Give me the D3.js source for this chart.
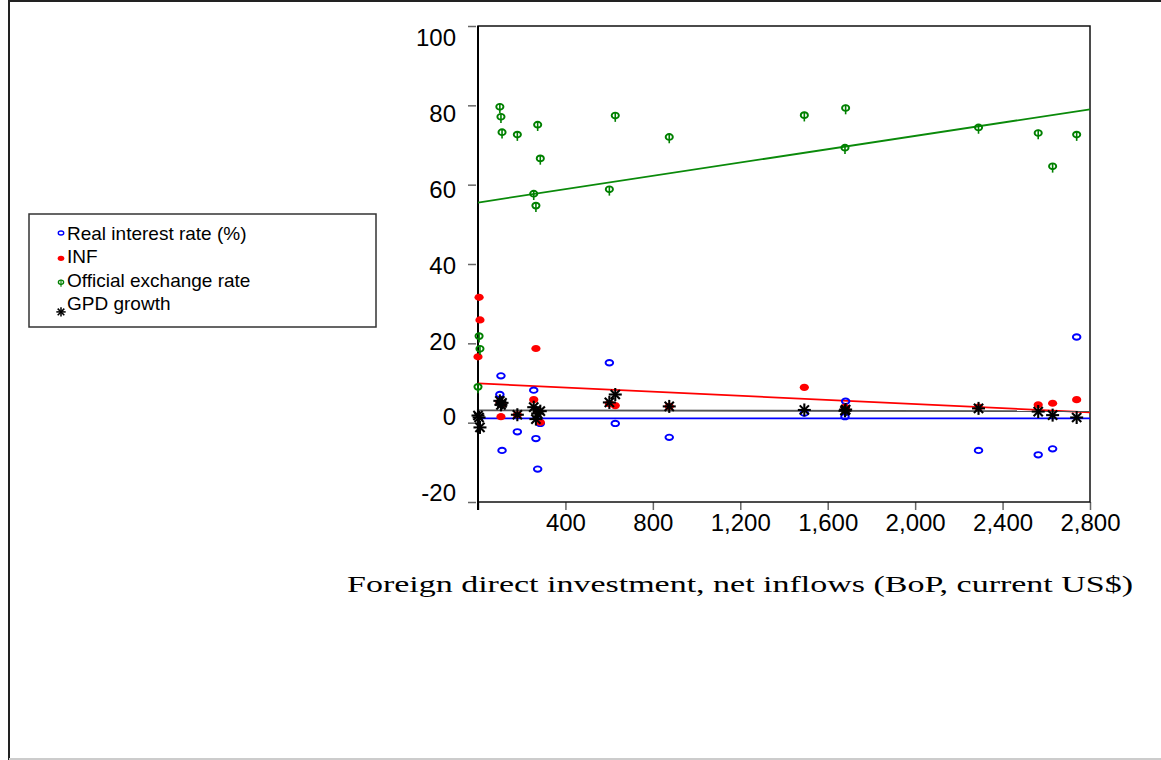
<!DOCTYPE html>
<html>
<head>
<meta charset="utf-8">
<script src="https://cdn.jsdelivr.net/npm/d3@7"></script>
<style>
  body { margin: 0; background: #fff; }
  svg { display: block; }
  .tick line { stroke: #666; stroke-width: 1.5; }
  .domain { display: none; }
</style>
</head>
<body>
<script>
// FDI net inflows for each year (x) and the four series (y)
const fdi          = [0, 5, 9, 100, 105, 110, 180, 255, 265, 273, 285, 601, 628, 875, 1493, 1679, 1682, 2290, 2563, 2629, 2739];
const realInterest = [null, null, null, 7.1, 11.8, -7.0, -2.3, 8.2, -4.0, -11.7, -0.2, 15.1, -0.2, -3.7, 2.4, 1.5, 5.4, -7.0, -8.1, -6.6, 21.6];
const inflation    = [16.6, 31.6, 25.9, 5.2, 1.5, 4.6, 2.0, 5.8, 18.7, 3.0, 0.1, 4.8, 4.3, 4.1, 8.9, 3.9, 3.5, 3.9, 4.5, 4.9, 5.8];
const exchangeRate = [8.9, 21.7, 18.5, 79.5, 77.0, 73.1, 72.5, 57.6, 54.6, 75.0, 66.5, 58.7, 77.3, 71.9, 77.4, 69.2, 79.2, 74.3, 72.9, 64.5, 72.5];
const gdpGrowth    = [1.8, 1.3, -1.2, 5.5, 4.5, 5.0, 2.0, 3.9, 0.9, 2.3, 2.9, 5.1, 7.1, 4.1, 3.2, 3.0, 3.3, 3.6, 2.8, 1.9, 1.3];

const seriesNames = ['Real interest rate (%)', 'INF', 'Official exchange rate', 'GPD growth'];
// fitted line values at FDI = 0 and FDI = 2800
const fitStart = [1.1, 9.9, 55.5, 3.1];
const fitEnd   = [1.1, 2.6, 79.0, 2.9];

const xTicks = [0, 400, 800, 1200, 1600, 2000, 2400, 2800];
const yTicks = [-20, 0, 20, 40, 60, 80, 100];
const xTitle = 'Foreign direct investment, net inflows (BoP, current US$)';

const colors = ['#0000ff', '#ff0000', '#008000', '#000000'];
const lineColors = ['#0000ff', '#ff0000', '#0a8a0a', '#555555'];

const width = 1161, height = 760;
const svg = d3.select('body').append('svg')
  .attr('width', width)
  .attr('height', height);

// page frame
svg.append('line').attr('x1', 9).attr('x2', 9).attr('y1', 0).attr('y2', height).attr('stroke', '#222').attr('stroke-width', 2);
svg.append('line').attr('x1', 9).attr('x2', width).attr('y1', 1).attr('y2', 1).attr('stroke', '#222').attr('stroke-width', 2);
svg.append('line').attr('x1', 9).attr('x2', width).attr('y1', 759).attr('y2', 759).attr('stroke', '#ccc').attr('stroke-width', 2);

const plot = { left: 478, right: 1090, top: 26, bottom: 502 };

const x = d3.scaleLinear().domain([0, 2800]).range([plot.left, plot.right]);
const y = d3.scaleLinear().domain([-20, 100]).range([plot.bottom, plot.top]);
// the value labels sit a little inside the tick span in the original
const yLabel = d3.scaleLinear().domain([-20, 100]).range([493, 38]);

// axes
const yAxis = svg.append('g')
  .attr('transform', `translate(${plot.left - 2},0)`)
  .call(d3.axisLeft(y).tickValues(yTicks).tickSize(8).tickPadding(12)
    .tickFormat(d => String(d)));
yAxis.selectAll('text')
  .attr('y', d => yLabel(d) - y(d))
  .style('font-family', '"Liberation Sans", Arial, sans-serif')
  .style('font-size', '24px')
  .attr('fill', '#000');

const xAxis = svg.append('g')
  .attr('transform', `translate(0,${plot.bottom})`)
  .call(d3.axisBottom(x).tickValues(xTicks).tickSize(8).tickPadding(4)
    .tickFormat(d => d === 0 ? '' : d3.format(',')(d)));
xAxis.selectAll('text')
  .style('font-family', '"Liberation Sans", Arial, sans-serif')
  .style('font-size', '24px')
  .attr('fill', '#000');

svg.append('rect')
  .attr('x', plot.left).attr('y', plot.top)
  .attr('width', plot.right - plot.left).attr('height', plot.bottom - plot.top)
  .attr('fill', 'none').attr('stroke', '#111').attr('stroke-width', 1.5);
svg.append('line')
  .attr('x1', plot.left).attr('x2', plot.left)
  .attr('y1', plot.top).attr('y2', plot.bottom + 8)
  .attr('stroke', '#000').attr('stroke-width', 2);

// fitted lines
const fits = svg.append('g');
seriesNames.forEach((name, i) => {
  fits.append('line')
    .attr('x1', x(0)).attr('y1', y(fitStart[i]))
    .attr('x2', x(2800)).attr('y2', y(fitEnd[i]))
    .attr('stroke', lineColors[i])
    .attr('stroke-width', 1.8);
});

// marker shapes
const drawMarker = (g, type, cx, cy, s) => {
  if (type === 0) {
    g.append('ellipse').attr('cx', cx).attr('cy', cy).attr('rx', 3.8 * s).attr('ry', 2.7 * s)
      .attr('fill', 'none').attr('stroke', colors[0]).attr('stroke-width', 1.9 * s);
  } else if (type === 1) {
    g.append('ellipse').attr('cx', cx).attr('cy', cy).attr('rx', 4.6 * s).attr('ry', 3.6 * s)
      .attr('fill', colors[1]);
  } else if (type === 2) {
    g.append('ellipse').attr('cx', cx).attr('cy', cy - 0.5 * s).attr('rx', 3.6 * s).attr('ry', 2.9 * s)
      .attr('fill', 'none').attr('stroke', colors[2]).attr('stroke-width', 1.9 * s);
    g.append('line').attr('x1', cx).attr('x2', cx).attr('y1', cy - 3.8 * s).attr('y2', cy + 5.8 * s)
      .attr('stroke', colors[2]).attr('stroke-width', 1.6 * s);
  } else {
    const r = 6.5 * s;
    [0, 45, 90, 135].forEach(a => {
      const dx = r * Math.cos(a * Math.PI / 180), dy = r * Math.sin(a * Math.PI / 180);
      g.append('line').attr('x1', cx - dx).attr('y1', cy - dy).attr('x2', cx + dx).attr('y2', cy + dy)
        .attr('stroke', colors[3]).attr('stroke-width', 2.1 * s);
    });
  }
};

const seriesValues = [realInterest, inflation, exchangeRate, gdpGrowth];
const points = svg.append('g');
seriesValues.forEach((vals, i) => {
  const g = points.append('g').attr('class', 'series-' + i);
  fdi.forEach((f, j) => {
    if (vals[j] === null) return;
    drawMarker(g, i, x(f), y(vals[j]), 1);
  });
});

// legend
const legend = svg.append('g').attr('transform', 'translate(29,214)');
legend.append('rect')
  .attr('width', 347).attr('height', 113)
  .attr('fill', '#fff').attr('stroke', '#333').attr('stroke-width', 1.5);
const markerOffsets = [-7, -5, -4, 2];
seriesNames.forEach((name, i) => {
  const baseline = 26 + i * 23.3;
  drawMarker(legend, i, 32, baseline + markerOffsets[i], 0.72);
  legend.append('text')
    .attr('x', 38).attr('y', baseline)
    .style('font-family', '"Liberation Sans", Arial, sans-serif')
    .style('font-size', '19px')
    .text(name);
});

// x axis title
svg.append('text')
  .attr('x', 347).attr('y', 592)
  .attr('textLength', 786)
  .attr('lengthAdjust', 'spacingAndGlyphs')
  .style('font-family', '"Liberation Serif", "Times New Roman", serif')
  .style('font-size', '24px')
  .text(xTitle);
</script>
</body>
</html>
